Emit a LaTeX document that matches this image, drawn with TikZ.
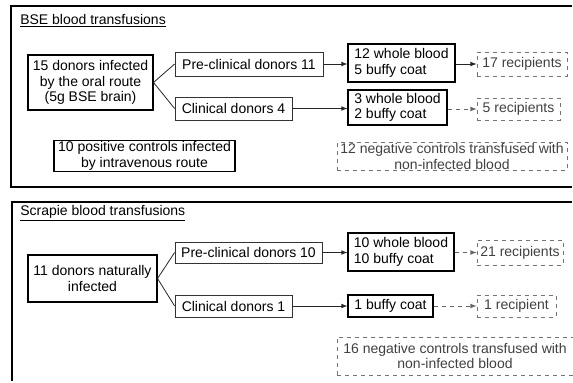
\documentclass[tikz,border=0pt]{standalone}
\usepackage{fontspec}
\setmainfont{Liberation Sans}
\usepackage{xcolor}
\usetikzlibrary{arrows}

\begin{document}
\begin{tikzpicture}[x=0.75pt,y=0.75pt,yscale=-1,xscale=1,
  font=\fontsize{10.5}{11.5}\selectfont,
  box/.style={draw=black,line width=0.8pt,inner sep=0.75pt,align=center},
  donbox/.style={draw=black!80,line width=0.6pt,inner sep=0.75pt,align=center},
  recbox/.style={draw=black!55,dashed,line width=0.6pt,inner sep=0.75pt,align=center,text=black!75},
  link/.style={draw=black!85,line width=0.6pt},
  feed/.style={draw=black!85,line width=0.6pt,-latex},
  faint/.style={draw=black!60,dashed,line width=0.6pt,-latex}]
        \useasboundingbox (0,0) rectangle (573,382);

        %Shape: panel frames
        \draw [line width=0.8pt] (572,6) -- (11,6) -- (11,187) -- (572,187) ;
        \draw [line width=0.8pt] (12,381) -- (12,202) -- (572,202) ;

        % Titles
        \node [anchor=base west,inner sep=0pt] (bsetitle) at (20,24) {\underline{BSE blood transfusions}};
        \node [anchor=base west,inner sep=0pt] (scrtitle) at (20,215) {\underline{Scrapie blood transfusions}};

        % BSE panel
        \node [box,minimum width=93.75pt,minimum height=41.25pt] (oral) at (90.5,82.5) {15 donors infected\\by the oral route\\(5g BSE brain)};
        \node [donbox,minimum width=111pt,minimum height=18pt] (pre11) at (249,64) {Pre-clinical donors 11};
        \node [donbox,minimum width=87.75pt,minimum height=17.25pt] (clin4) at (233.5,108.5) {Clinical donors 4};
        \node [box,align=left,minimum width=80.25pt,minimum height=28.5pt] (wb12) at (401.5,63) {12 whole blood\\5 buffy coat};
        \node [box,align=left,minimum width=74.25pt,minimum height=26.25pt] (wb3) at (397.5,107.5) {3 whole blood\\2 buffy coat};
        \node [recbox,minimum width=67.5pt,minimum height=18pt] (rec17) at (522,64) {17 recipients};
        \node [recbox,minimum width=62.25pt,minimum height=16.5pt] (rec5) at (518.5,109) {5 recipients};
        \node [box,minimum width=135.75pt,minimum height=21pt] (pos10) at (144.5,156) {10 positive controls infected\\by intravenous route};
        \node [recbox,minimum width=172.5pt,minimum height=20.25pt] (neg12) at (452,156.5) {12 negative controls transfused with\\non-infected blood};

        \draw [link] (oral.east) -- (pre11.west) ;
        \draw [link] (oral.east) -- (clin4.west) ;
        \draw [feed] (pre11.east) -- (pre11.east -| wb12.west) ;
        \draw [feed] (clin4.east) -- (clin4.east -| wb3.west) ;
        \draw [feed] (wb12.east |- rec17.west) -- (rec17.west) ;
        \draw [faint] (wb3.east |- rec5.west) -- (rec5.west) ;

        % Scrapie panel
        \node [box,minimum width=96.75pt,minimum height=35.25pt] (natural) at (92.5,278.5) {11 donors naturally\\infected};
        \node [donbox,minimum width=110.25pt,minimum height=15.75pt] (pre10) at (248.5,252.5) {Pre-clinical donors 10};
        \node [donbox,minimum width=87.75pt,minimum height=16.5pt] (clin1) at (233.5,306) {Clinical donors 1};
        \node [box,align=left,minimum width=79.5pt,minimum height=28.5pt] (wb10) at (401,252) {10 whole blood\\10 buffy coat};
        \node [box,minimum width=63.75pt,minimum height=16.5pt] (bc1) at (390.5,306) {1 buffy coat};
        \node [recbox,minimum width=64.5pt,minimum height=18.75pt] (rec21) at (520,252.5) {21 recipients};
        \node [recbox,minimum width=59.25pt,minimum height=16.5pt] (rec1) at (516.5,306) {1 recipient};
        \node [recbox,minimum width=177pt,minimum height=28.5pt] (neg16) at (455,356) {16 negative controls transfused with\\non-infected blood};

        \draw [link] (natural.east) -- (pre10.west) ;
        \draw [link] (natural.east) -- (clin1.west) ;
        \draw [feed] (pre10.east) -- (pre10.east -| wb10.west) ;
        \draw [feed] (clin1.east) -- (bc1.west) ;
        \draw [faint] (wb10.east |- rec21.west) -- (rec21.west) ;
        \draw [faint] (bc1.east) -- (rec1.west) ;

\end{tikzpicture}
\end{document}
